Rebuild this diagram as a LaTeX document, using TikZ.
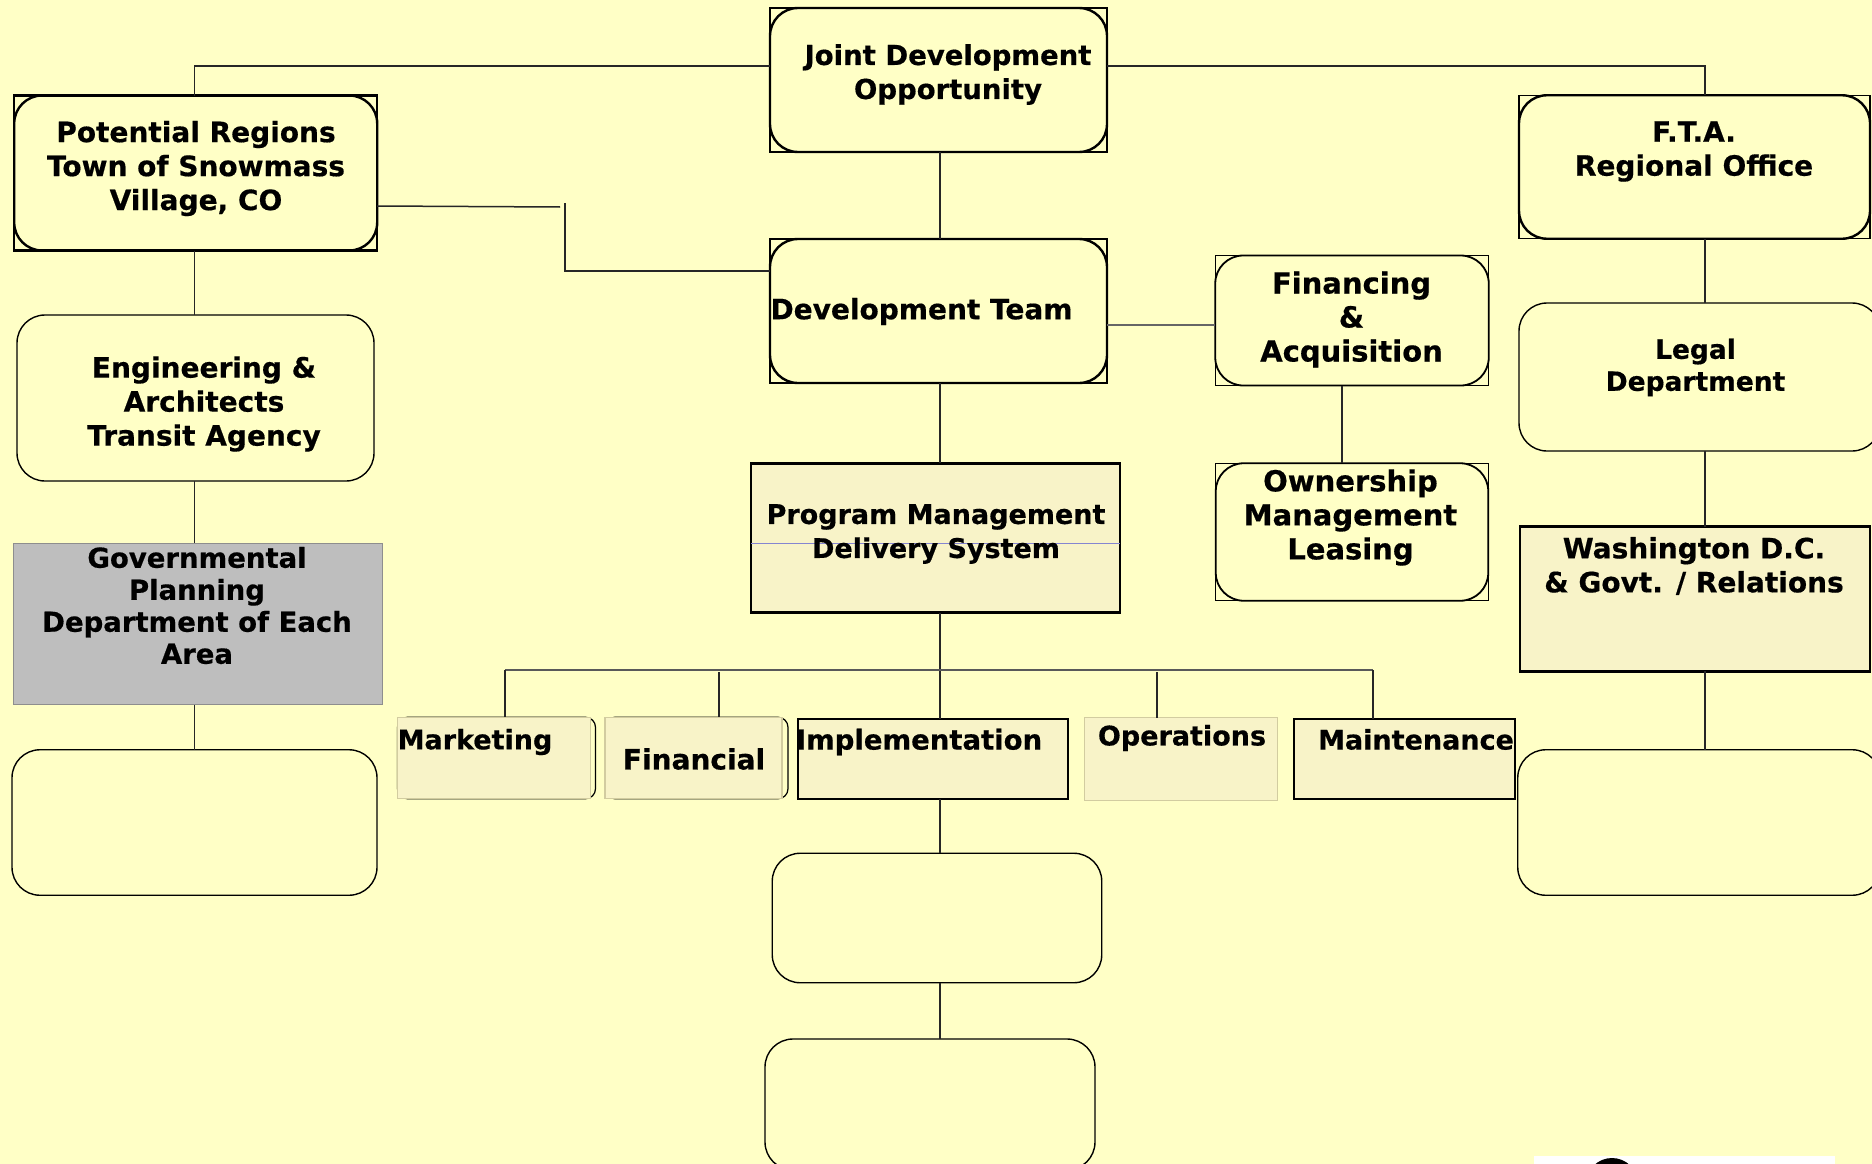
\documentclass[tikz,border=0pt]{standalone}
\usepackage{fontspec}
\setmainfont{DejaVu Sans}[BoldFeatures={FakeBold=0.5}]
\usetikzlibrary{positioning}
\definecolor{paper}{HTML}{FFFFC6}
\definecolor{cream}{HTML}{F8F3C8}
\definecolor{softedge}{HTML}{D2CCA0}
\definecolor{slate}{HTML}{BEBEBE}
\tikzset{
  lab/.style={font=\bfseries\fontsize{#1}{34}\selectfont, align=center, inner sep=0pt},
  lab/.default=27,
  tightlab/.style={font=\bfseries\fontsize{#1}{32}\selectfont, align=center, inner sep=0pt},
  tightlab/.default=27,
  plainbox/.style={draw, line width=1.4pt, rounded corners=28pt, outer sep=0pt, inner sep=0pt},
  heavybox/.style={plainbox, line width=2.4pt},
  squarebox/.style={draw, line width=2.6pt, fill=cream, outer sep=0pt, inner sep=0pt},
  softbox/.style={draw=softedge, line width=1.2pt, fill=cream, outer sep=0pt, inner sep=0pt},
  backbox/.style={draw, line width=1.2pt, rounded corners=10pt, outer sep=0pt, inner sep=0pt},
  link/.style={line width=1.5pt, draw=black!85},
  size/.style 2 args={minimum width=#1pt, minimum height=#2pt}
}
\begin{document}
\begin{tikzpicture}[x=1pt, y=-1pt]
\fill[paper] (0,0) rectangle (1872,1164);
\useasboundingbox (0,0) rectangle (1872,1164);
% left column
\node[heavybox, size={363}{155}] (potential) at (195.7,173) {};
\node[plainbox, size={357}{166}] (engineering) at (195.5,398) {};
\node[draw=black!25!slate, line width=1pt, fill=slate, size={369}{161.5}, outer sep=0pt] (governmental) at (197.5,624) {};
\node[plainbox, size={365}{145.5}] (leftblank) at (194.5,822.5) {};
% middle column
\node[heavybox, size={337}{144}] (joint) at (938.5,80) {};
\node[heavybox, size={337}{144}] (devteam) at (938.5,311) {};
\node[squarebox, size={369}{149.5}] (program) at (935.5,538) {};
\node[plainbox, size={329.5}{129.5}] (midblank) at (937,918) {};
\node[plainbox, size={330}{131}] (lowblank) at (930,1104.5) {};
% financing column
\node[plainbox, line width=1.8pt, size={273.5}{130}] (financing) at (1352,320.5) {};
\node[plainbox, line width=1.8pt, size={272.5}{137.5}] (ownership) at (1352,532) {};
% right column
\node[heavybox, size={351}{143.5}] (fta) at (1694.5,167) {};
\node[plainbox, size={361}{148}] (legal) at (1699.5,377) {};
\node[squarebox, size={350}{144.5}] (washington) at (1695,599) {};
\node[plainbox, size={362.5}{145.5}] (rightblank) at (1699,822.5) {};
% task row
\node[backbox, size={198}{81.5}] (marketingback) at (496.5,758) {};
\node[backbox, size={183}{81.5}] (financialback) at (696.5,758) {};
\node[softbox, size={192.5}{81.5}] (marketing) at (494,758) {};
\node[softbox, size={177}{81.5}] (financial) at (693.5,758) {};
\node[squarebox, line width=2pt, size={270}{80}] (implementation) at (932.5,759) {};
\node[softbox, size={192.5}{82.5}] (operations) at (1181,759) {};
\node[squarebox, line width=1.6pt, size={221}{80}] (maintenance) at (1404.5,759) {};
% square corners behind the rounded boxes
\foreach \n in {joint,devteam,financing,ownership,fta}
  \draw[line width=1.2pt] (\n.north west) rectangle (\n.south east);
\draw[line width=2.4pt] (potential.north west) rectangle (potential.south east);
\draw[line width=.8pt, draw=blue!30!slate] (program.west |- 0,543) -- (program.east |- 0,543);
% texts
\node[lab=27.5] (jointtext) at (948,74.5) {Joint Development\\Opportunity};
\node[lab=28] (potentialtext) at (196,168.5) {Potential Regions\\Town of Snowmass\\Village, CO};
\node[lab=28] (ftatext) at (1694,151.5) {F.T.A.\\Regional Office};
\node[lab=28] (devtext) at (921.5,311.5) {Development Team};
\node[lab=29] (financingtext) at (1351.5,319.5) {Financing\\\&\\Acquisition};
\node[lab=29] (ownershiptext) at (1350.5,517.5) {Ownership\\Management\\Leasing};
\node[lab=28] (engineeringtext) at (204,404) {Engineering \&\\Architects\\Transit Agency};
\node[tightlab=26.5] (legaltext) at (1695.5,367.5) {Legal\\Department};
\node[lab] (programtext) at (936,534) {Program Management\\Delivery System};
\node[lab=28] (washingtontext) at (1694,566) {Washington D.C.\\\& Govt. / Relations};
\node[tightlab=27.5] (governmentaltext) at (197,605.5) {Governmental\\Planning\\Department of Each\\Area};
\node[lab] (marketingtext) at (475,742) {Marketing};
\node[lab=28] (financialtext) at (694,759) {Financial};
\node[lab=27.5] (implementationtext) at (919,742) {Implementation};
\node[lab] (operationstext) at (1182,738) {Operations};
\node[lab] (maintenancetext) at (1416,739.5) {Maintenance};
% jog and bus
\coordinate (jogstart) at (560,207);
\coordinate (jogtop) at (565,203);
\coordinate (jogend) at (565,271);
\coordinate (busleft) at (505,670);
\coordinate (busright) at (1373,670);
% connectors
\draw[link] (joint.west |- 0,66) -| (potential.north -| 194.6,0);
\draw[link] (joint.east |- 0,66) -| (fta.north -| 1705,0);
\draw[link] (joint.south -| 940,0) -- (devteam.north -| 940,0);
\draw[link] (devteam.south -| 940,0) -- (program.north -| 940,0);
\draw[link] (program.south -| 940,0) -- (implementation.north -| 940,0);
\draw[link] (implementation.south -| 940,0) -- (midblank.north -| 940,0);
\draw[link] (midblank.south -| 940,0) -- (lowblank.north -| 940,0);
\draw[link] (potential.east |- 0,206) -- (jogstart);
\draw[link] (jogtop) -- (jogend) -- (devteam.west |- jogend);
\draw[link] (potential.south -| 194.6,0) -- (engineering.north -| 194.6,0);
\draw[link] (engineering.south -| 194.6,0) -- (governmental.north -| 194.6,0);
\draw[link] (governmental.south -| 194.6,0) -- (leftblank.north -| 194.6,0);
\draw[link, draw=black!60] (devteam.east |- 0,325) -- (financing.west |- 0,325);
\draw[link] (financing.south -| 1342,0) -- (ownership.north -| 1342,0);
\draw[link] (fta.south -| 1705,0) -- (legal.north -| 1705,0);
\draw[link] (legal.south -| 1705,0) -- (washington.north -| 1705,0);
\draw[link] (washington.south -| 1705,0) -- (rightblank.north -| 1705,0);
\draw[line width=2.4pt, draw=black!65] (busleft) -- (busright);
\draw[link] (busleft) -- (marketing.north -| busleft);
\draw[link] (busright) -- (maintenance.north -| busright);
\draw[link] (719,672) -- (financial.north -| 719,0);
\draw[link] (1157,672) -- (operations.north -| 1157,0);
% corner of the pasted image
\fill[white] (1534,1156) rectangle (1835,1172);
\fill[black] (1612,1184) circle (26);
\end{tikzpicture}
\end{document}
